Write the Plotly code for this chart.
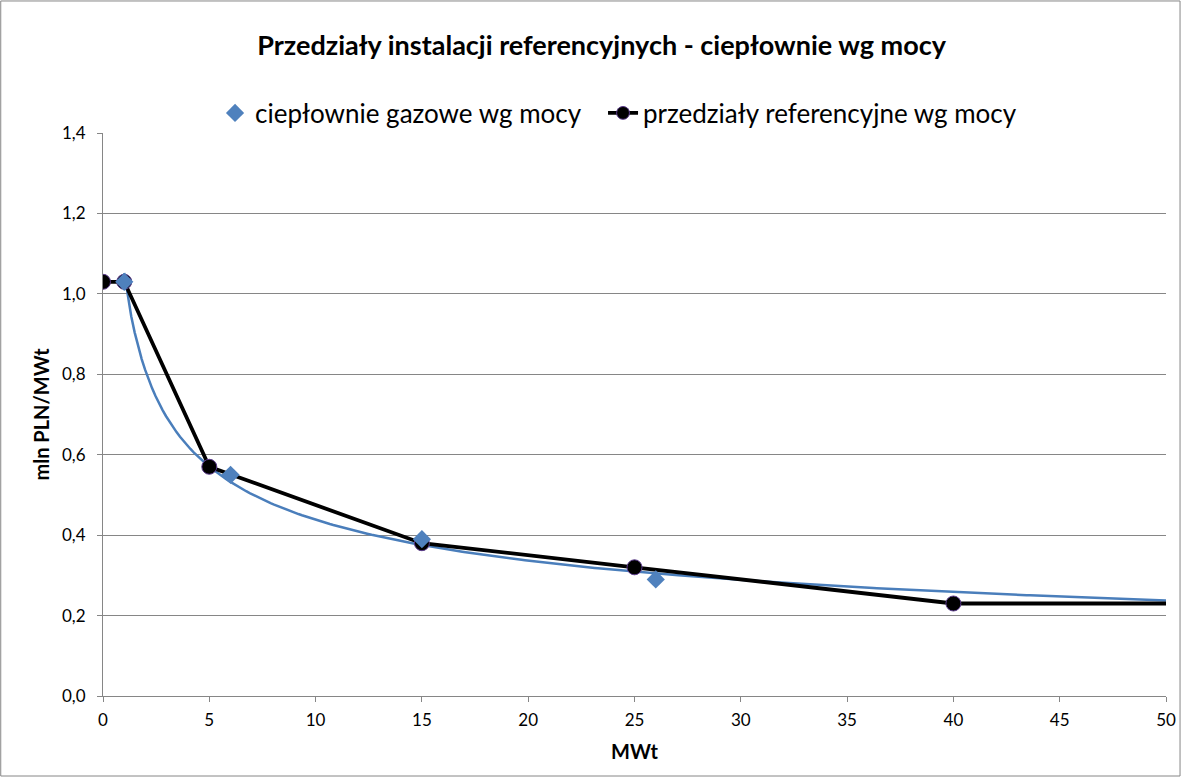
import numpy as np
import plotly.graph_objects as go

# Data
gas_x = [1, 6, 15, 26]
gas_y = [1.03, 0.55, 0.39, 0.29]

ref_x = [0, 1, 5, 15, 25, 40, 50]
ref_y = [1.03, 1.03, 0.57, 0.38, 0.32, 0.23, 0.23]
ref_marker_sizes = [15, 15, 15, 15, 15, 15, 0]

y_ticks = [0, 0.2, 0.4, 0.6, 0.8, 1.0, 1.2, 1.4]
y_tick_labels = ["0,0", "0,2", "0,4", "0,6", "0,8", "1,0", "1,2", "1,4"]
x_ticks = [0, 5, 10, 15, 20, 25, 30, 35, 40, 45, 50]

# Power trendline (least squares in log space, as the spreadsheet does)
b, ln_a = np.polyfit(np.log(gas_x), np.log(gas_y), 1)
trend_x = np.linspace(1, 50, 300)
trend_y = np.exp(ln_a) * trend_x ** b

FONT = "Lato"
GRID = "#868686"
fig = go.Figure()

fig.add_trace(go.Scatter(
    x=trend_x, y=trend_y, mode="lines",
    line=dict(color="#4A7EBB", width=2.5), showlegend=False, hoverinfo="skip"))

fig.add_trace(go.Scatter(
    x=ref_x, y=ref_y, mode="lines+markers", name="przedziały referencyjne wg mocy",
    line=dict(color="black", width=3.8),
    marker=dict(symbol="circle", size=ref_marker_sizes, color="black", opacity=1,
                line=dict(color="#5B3A8C", width=1)), legend="legend2"))

fig.add_trace(go.Scatter(
    x=gas_x, y=gas_y, mode="markers", name="ciepłownie gazowe wg mocy",
    marker=dict(symbol="diamond", size=14, color="#4F81BD"), legend="legend"))

leg_common = dict(orientation="h", xanchor="left", y=1.0355, yanchor="middle",
                  font=dict(size=26, family=FONT), itemwidth=30,
                  bgcolor="rgba(0,0,0,0)")

fig.update_layout(
    width=1182, height=778,
    paper_bgcolor="white", plot_bgcolor="white",
    margin=dict(l=103, r=16, t=133, b=82),
    font=dict(family=FONT, size=18, color="black"),
    title=dict(text="<b>Przedziały instalacji referencyjnych - ciepłownie wg mocy</b>",
               x=0.509, xanchor="center", y=0.942, yanchor="middle",
               font=dict(size=27, family=FONT)),
    legend=dict(x=0.1054, **leg_common),
    legend2=dict(x=0.4704, **leg_common),
    xaxis=dict(range=[0, 50], tickvals=x_ticks, showgrid=False, zeroline=False,
               showline=True, linecolor=GRID, linewidth=1, automargin=False,
               ticks="outside", tickcolor=GRID, ticklen=5,
               tickfont=dict(size=17), ticklabelstandoff=4,
               title=dict(text="<b>MWt</b>", font=dict(size=20), standoff=15)),
    yaxis=dict(range=[0, 1.4], tickvals=y_ticks, ticktext=y_tick_labels,
               showgrid=True, gridcolor=GRID, gridwidth=1, zeroline=False,
               showline=True, linecolor=GRID, linewidth=1, automargin=False,
               ticks="outside", tickcolor=GRID, ticklen=5,
               tickfont=dict(size=17), ticklabelstandoff=8,
               title=dict(text="<b>mln PLN/MWt</b>", font=dict(size=20), standoff=7)),
    shapes=[dict(type="rect", xref="paper", yref="paper", x0=-0.0962, x1=1.0132,
                 y0=-0.1421, y1=1.2345, line=dict(color=GRID, width=1))],
)

fig.write_html("out.html", config={"displayModeBar": False},
               post_script="document.body.style.margin='0';")
